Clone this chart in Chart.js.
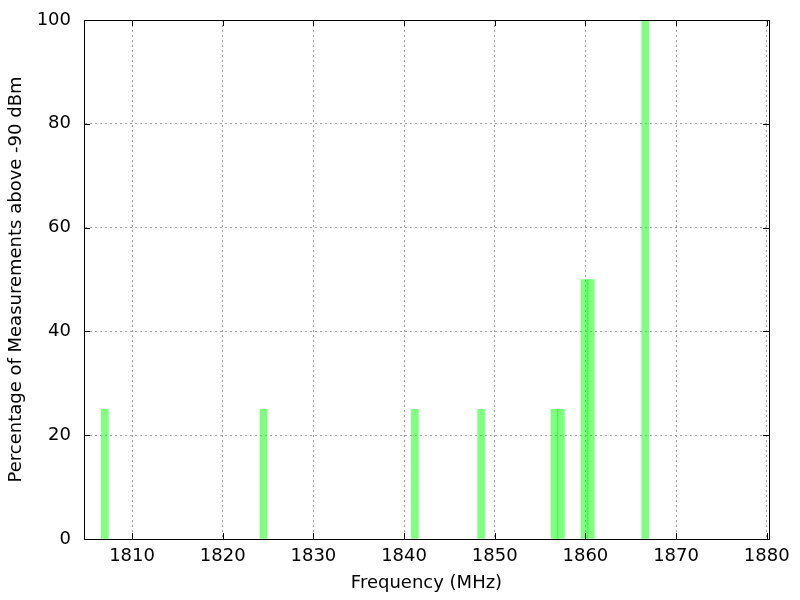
<!DOCTYPE html>
<html>
<head>
<meta charset="utf-8">
<script src="https://cdn.jsdelivr.net/npm/chart.js@4/dist/chart.umd.min.js"></script>
<style>
  html, body { margin: 0; padding: 0; background: #fff; }
  #wrap { width: 800px; height: 600px; }
</style>
</head>
<body>
<div id="wrap"><canvas id="chart" width="800" height="600"></canvas></div>
<script>
// Frecuencias (MHz) y porcentaje de medidas por encima de -90 dBm
const frequencies = [1807.0, 1824.5, 1841.2, 1848.5, 1856.6, 1857.3, 1859.9, 1860.6, 1866.6];
const percentages = [25, 25, 25, 25, 25, 25, 50, 50, 100];

// Ejes
const xTicks = [1810, 1820, 1830, 1840, 1850, 1860, 1870, 1880];
const yTicks = [0, 20, 40, 60, 80, 100];
const xMin = 1804.7;
const xMax = 1880.25;

// Marco completo + marcas de tick hacia dentro (estilo gnuplot)
const framePlugin = {
    id: 'frame',
    afterDraw(chart) {
        const { ctx, chartArea: a, scales: { x, y } } = chart;
        const tick = 6;
        ctx.save();
        ctx.strokeStyle = '#000';
        ctx.lineWidth = 1;
        ctx.strokeRect(a.left + 0.5, a.top + 0.5, a.right - a.left, a.bottom - a.top);
        ctx.beginPath();
        x.ticks.forEach(t => {
            const px = Math.round(x.getPixelForValue(t.value)) + 0.5;
            ctx.moveTo(px, a.bottom);
            ctx.lineTo(px, a.bottom - tick);
            ctx.moveTo(px, a.top);
            ctx.lineTo(px, a.top + tick);
        });
        y.ticks.forEach(t => {
            const py = Math.round(y.getPixelForValue(t.value)) + 0.5;
            ctx.moveTo(a.left, py);
            ctx.lineTo(a.left + tick, py);
            ctx.moveTo(a.right, py);
            ctx.lineTo(a.right - tick, py);
        });
        ctx.stroke();
        ctx.restore();
    }
};

Chart.defaults.font.family = "'DejaVu Sans', sans-serif";
Chart.defaults.font.size = 18;
Chart.defaults.color = '#000';

new Chart(document.getElementById('chart'), {
    type: 'bar',
    data: {
        datasets: [{
            label: 'Percentage',
            data: frequencies.map((f, i) => ({ x: f, y: percentages[i] })),
            backgroundColor: 'rgba(0, 255, 0, 0.5)',
            borderWidth: 0,
            barThickness: 7
        }]
    },
    options: {
        responsive: false,
        animation: false,
        layout: { padding: { top: 20, right: 31, left: 0, bottom: 0 } },
        plugins: {
            legend: { display: false },
            tooltip: { enabled: false }
        },
        scales: {
            x: {
                type: 'linear',
                min: xMin,
                max: xMax,
                offset: false,
                afterBuildTicks: scale => {
                    scale.ticks = xTicks.map(v => ({ value: v }));
                },
                afterFit: scale => {
                    scale.height = 61;
                    scale.paddingLeft = 0;
                    scale.paddingRight = 0;
                },
                ticks: { padding: 7, maxRotation: 0, autoSkip: false, callback: v => String(v) },
                grid: { color: '#a0a0a0', drawTicks: false, lineWidth: 1, offset: false },
                border: { color: '#000', dash: [2, 3] },
                title: { display: true, text: 'Frequency (MHz)', padding: 6 }
            },
            y: {
                min: 0,
                max: 100,
                afterBuildTicks: scale => {
                    scale.ticks = yTicks.map(v => ({ value: v }));
                },
                afterFit: scale => {
                    scale.width = 84;
                    scale.paddingTop = 0;
                    scale.paddingBottom = 0;
                },
                ticks: { padding: 13, callback: v => String(v) },
                grid: { color: '#a0a0a0', drawTicks: false, lineWidth: 1 },
                border: { color: '#000', dash: [2, 3] },
                title: { display: true, text: 'Percentage of Measurements above -90 dBm', padding: 6 }
            }
        }
    },
    plugins: [framePlugin]
});
</script>
</body>
</html>
